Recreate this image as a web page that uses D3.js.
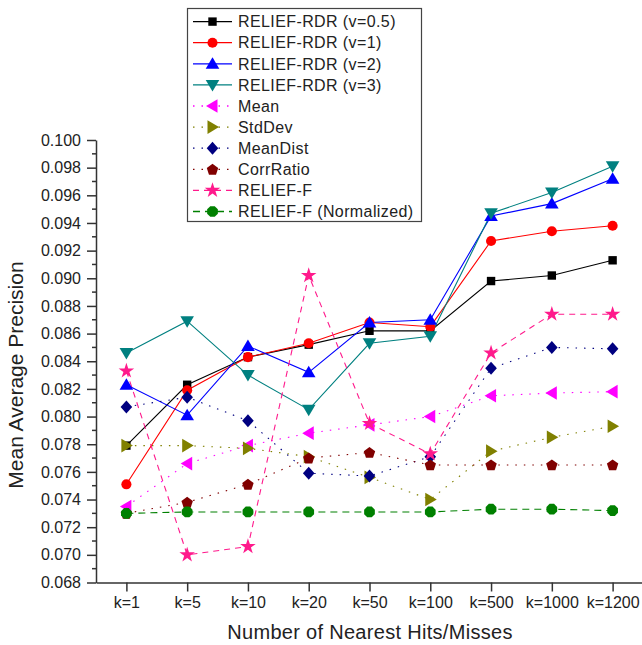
<!DOCTYPE html>
<html>
<head>
<meta charset="utf-8">
<script src="https://cdn.jsdelivr.net/npm/d3@7"></script>
<style>
  body { margin: 0; background: #fff; }
  text { font-family: "Liberation Sans", Arial, sans-serif; fill: #222; }
  .axis path, .axis line { stroke: #333; stroke-width: 1.5; }
</style>
</head>
<body>
<svg id="chart"></svg>
<script>
var width = 642;
var height = 645;

// categories on the x axis
var kLabels = ["k=1", "k=5", "k=10", "k=20", "k=50", "k=100", "k=500", "k=1000", "k=1200"];

// series values
var rdr05    = [0.0779, 0.0823, 0.0843, 0.0852, 0.0862, 0.0862, 0.0898, 0.0902, 0.0913];
var rdr1     = [0.0751, 0.0819, 0.0843, 0.0853, 0.0868, 0.0865, 0.0927, 0.0934, 0.0938];
var rdr2     = [0.0823, 0.0801, 0.0851, 0.0832, 0.0868, 0.0870, 0.0945, 0.0954, 0.0972];
var rdr3     = [0.0846, 0.0869, 0.0830, 0.0805, 0.0853, 0.0858, 0.0947, 0.0962, 0.0981];
var meanV    = [0.0735, 0.0766, 0.0779, 0.0788, 0.0794, 0.0800, 0.0815, 0.0817, 0.0818];
var stdDev   = [0.0779, 0.0779, 0.0777, 0.0771, 0.0756, 0.0740, 0.0775, 0.0785, 0.0793];
var meanDist = [0.0807, 0.0814, 0.0797, 0.0759, 0.0757, 0.0771, 0.0835, 0.0850, 0.0849];
var corrRat  = [0.0730, 0.0738, 0.0751, 0.0770, 0.0774, 0.0765, 0.0765, 0.0765, 0.0765];
var reliefF  = [0.0833, 0.0700, 0.0706, 0.0902, 0.0795, 0.0773, 0.0846, 0.0874, 0.0874];
var reliefFN = [0.0730, 0.0731, 0.0731, 0.0731, 0.0731, 0.0731, 0.0733, 0.0733, 0.0732];

var yTicks = d3.range(0, 17).map(function(i){ return +(0.068 + i * 0.002).toFixed(3); });
var yMinor = d3.range(0, 16).map(function(i){ return +(0.069 + i * 0.002).toFixed(3); });

var series = [
  {name: "RELIEF-RDR (v=0.5)", values: rdr05, color: "#000000", dash: null, marker: "square"},
  {name: "RELIEF-RDR (v=1)", values: rdr1, color: "#ff0000", dash: null, marker: "circle"},
  {name: "RELIEF-RDR (v=2)", values: rdr2, color: "#0000ff", dash: null, marker: "up"},
  {name: "RELIEF-RDR (v=3)", values: rdr3, color: "#008080", dash: null, marker: "down"},
  {name: "Mean", values: meanV, color: "#ff00ff", dash: "1.5,7", marker: "left"},
  {name: "StdDev", values: stdDev, color: "#808000", dash: "1.5,7", marker: "right"},
  {name: "MeanDist", values: meanDist, color: "#000080", dash: "1.5,7", marker: "diamond"},
  {name: "CorrRatio", values: corrRat, color: "#800000", dash: "1.5,7", marker: "pentagon"},
  {name: "RELIEF-F", values: reliefF, color: "#ff1a8c", dash: "6,5", marker: "star"},
  {name: "RELIEF-F (Normalized)", values: reliefFN, color: "#008000", dash: "7,5", marker: "hexagon"}
];

var svg = d3.select('#chart').attr('width', width).attr('height', height);

var x = d3.scalePoint().domain(kLabels).range([96, 643]).padding(0.5);
var y = d3.scaleLinear().domain([0.068, 0.100]).range([582.5, 140]);

// marker shapes
function markerPath(type) {
  var p;
  if (type == "square") return "M-4.2,-4.2H4.2V4.2H-4.2Z";
  if (type == "circle") return d3.symbol().type(d3.symbolCircle).size(80)();
  if (type == "up") return "M0,-6.5L6.8,5L-6.8,5Z";
  if (type == "down") return "M0,6.5L6.8,-5L-6.8,-5Z";
  if (type == "left") return "M-6.5,0L5,-6.8L5,6.8Z";
  if (type == "right") return "M6.5,0L-5,-6.8L-5,6.8Z";
  if (type == "diamond") return "M0,-6.5L5.8,0L0,6.5L-5.8,0Z";
  if (type == "pentagon") {
    p = d3.range(5).map(function(i){
      var a = -Math.PI / 2 + i * 2 * Math.PI / 5;
      return [6 * Math.cos(a), 6 * Math.sin(a) + 0.5];
    });
    return "M" + p.join("L") + "Z";
  }
  if (type == "hexagon") {
    p = d3.range(8).map(function(i){
      var a = Math.PI / 8 + i * Math.PI / 4;
      return [5.8 * Math.cos(a), 5.8 * Math.sin(a)];
    });
    return "M" + p.join("L") + "Z";
  }
  if (type == "star") return d3.symbol().type(d3.symbolStar).size(75)();
}

// axes
var yAxis = d3.axisLeft(y).tickValues(yTicks).tickFormat(d3.format('.3f')).tickSize(9).tickPadding(6).tickSizeOuter(0);
var xAxis = d3.axisBottom(x).tickSize(9).tickPadding(5).tickSizeOuter(0);

var gy = svg.append('g').attr('class', 'axis').attr('transform', 'translate(96,0)').call(yAxis);
gy.selectAll('text').style('font-size', '16px');
gy.selectAll('.minor').data(yMinor).enter().append('line')
  .attr('class', 'minor')
  .attr('x1', -4).attr('x2', 0)
  .attr('y1', function(d){ return y(d); }).attr('y2', function(d){ return y(d); })
  .attr('stroke', '#333').attr('stroke-width', 1.5);

var gx = svg.append('g').attr('class', 'axis').attr('transform', 'translate(0,582.5)').call(xAxis);
gx.selectAll('text').style('font-size', '16px');

// lines
var line = d3.line()
  .x(function(d, i){ return x(kLabels[i]); })
  .y(function(d){ return y(d); });

var plot = svg.append('g');
series.forEach(function(s){
  plot.append('path')
    .attr('d', line(s.values))
    .attr('fill', 'none')
    .attr('stroke', s.color)
    .attr('stroke-width', 1.1)
    .attr('stroke-dasharray', s.dash);
});
series.forEach(function(s){
  plot.selectAll(null).data(s.values).enter().append('path')
    .attr('transform', function(d, i){ return 'translate(' + x(kLabels[i]) + ',' + y(d) + ')'; })
    .attr('d', markerPath(s.marker))
    .attr('fill', s.color);
});

// axis titles
svg.append('text')
  .attr('x', 370).attr('y', 639)
  .attr('text-anchor', 'middle')
  .style('font-size', '20px')
  .style('letter-spacing', '0.3px')
  .text('Number of Nearest Hits/Misses');

svg.append('text')
  .attr('transform', 'translate(23,375) rotate(-90)')
  .attr('text-anchor', 'middle')
  .style('font-size', '21px')
  .text('Mean Average Precision');

// legend
var legend = svg.append('g');
legend.append('rect')
  .attr('x', 187.5).attr('y', 8.5).attr('width', 234).attr('height', 213)
  .attr('fill', '#fff').attr('stroke', '#444').attr('stroke-width', 1.2);

var rows = legend.selectAll('.row').data(series).enter().append('g')
  .attr('class', 'row')
  .attr('transform', function(d, i){ return 'translate(0,' + (21.6 + i * 21.1) + ')'; });

rows.append('line')
  .attr('x1', 193).attr('x2', 232)
  .attr('stroke', function(d){ return d.color; })
  .attr('stroke-width', 1.3)
  .attr('stroke-dasharray', function(d){ return d.dash; });
rows.append('path')
  .attr('transform', 'translate(212.5,0)')
  .attr('d', function(d){ return markerPath(d.marker); })
  .attr('fill', function(d){ return d.color; });
rows.append('text')
  .attr('x', 238).attr('y', 0).attr('dy', '0.36em')
  .style('font-size', '16px')
  .style('letter-spacing', '0.4px')
  .text(function(d){ return d.name; });
</script>
</body>
</html>
